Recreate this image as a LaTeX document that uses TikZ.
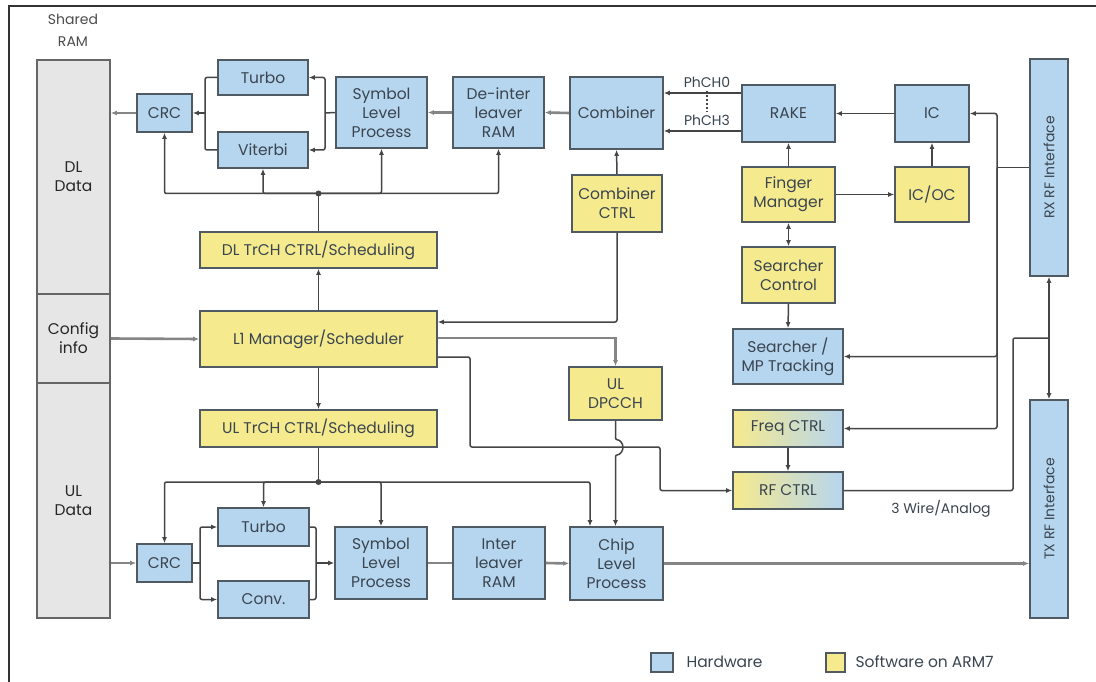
\documentclass[tikz,border=0pt]{standalone}
\usepackage{fontspec}
\setmainfont{Poppins}
\usetikzlibrary{arrows.meta}
\definecolor{hwblue}{HTML}{B6D5EE}
\definecolor{swyel}{HTML}{F6EA8E}
\definecolor{ramgrey}{HTML}{E6E6E6}
\definecolor{edge}{HTML}{505A63}
\definecolor{txt}{HTML}{3A4550}
\definecolor{ctlcol}{HTML}{454545}
\definecolor{datacol}{HTML}{858585}
\begin{document}
\begin{tikzpicture}[x=1pt,y=-1pt,
  box/.style={draw=edge, line width=1.6pt, align=center, inner sep=0pt,
    text=txt, font=\fontsize{15.5}{19}\selectfont},
  hw/.style={box, fill=hwblue},
  sw/.style={box, fill=swyel},
  mix/.style={box, left color=swyel, middle color=swyel, right color=hwblue},
  ram/.style={box, fill=ramgrey, draw=gray!80!black, text=gray!30!black},
  ctl/.style={draw=ctlcol, line width=1.5pt, rounded corners=2pt},
  data/.style={draw=datacol, line width=2.6pt},
  arr/.style={-{Latex[length=6pt,width=5pt]}},
  arrs/.style={{Latex[length=6pt,width=5pt]}-{Latex[length=6pt,width=5pt]}},
  dot/.style={circle, fill=ctlcol, inner sep=0pt, minimum size=6pt},
  note/.style={text=txt, font=\fontsize{14}{16}\selectfont},
  lbl/.style={text=gray!60!black, font=\fontsize{14}{22}\selectfont, align=center}]
\useasboundingbox (0,0) rectangle (1096,682);
\fill[white] (0,0) rectangle (1096,682);
% frame
\draw[line width=2pt, black!80] (1096,6.5) -- (8.5,6.5) -- (8.5,682);

% shared RAM column
\node[lbl] (ramlbl) at (73,30) {Shared\\RAM};
\node[ram, minimum width=73, minimum height=234] (dldata) at (73.5,177) {DL\\Data};
\node[ram, minimum width=73, minimum height=89] (cfginfo) at (73.5,338.5) {Config\\info};
\node[ram, minimum width=73, minimum height=235] (uldata) at (73.5,500.5) {UL\\Data};

% downlink chain
\node[hw, minimum width=55, minimum height=38] (dlcrc) at (164.5,113) {CRC};
\node[hw, minimum width=90, minimum height=35] (dlturbo) at (263,77.5) {Turbo};
\node[hw, minimum width=90, minimum height=36] (viterbi) at (263,150) {Viterbi};
\node[hw, minimum width=91, minimum height=71] (dlsym) at (381.5,112.5) {Symbol\\Level\\Process};
\node[hw, minimum width=91, minimum height=71] (deint) at (498.5,112.5) {De-inter\\leaver\\RAM};
\node[hw, minimum width=93, minimum height=72] (comb) at (616.5,113) {Combiner};
\node[sw, minimum width=90, minimum height=57] (combctrl) at (617,203.5) {Combiner\\CTRL};
\node[hw, minimum width=93, minimum height=57] (rake) at (788.5,113.5) {RAKE};
\node[hw, minimum width=74, minimum height=57] (ic) at (932,113.5) {IC};
\node[sw, minimum width=93, minimum height=55] (finger) at (788.5,194.5) {Finger\\Manager};
\node[sw, minimum width=74, minimum height=55] (icoc) at (932,194.5) {IC/OC};
\node[sw, minimum width=93, minimum height=56] (srchctrl) at (788.5,275) {Searcher\\Control};
\node[hw, minimum width=110, minimum height=55] (srchmp) at (788,356.5) {Searcher /\\MP Tracking};
\node[mix, minimum width=110, minimum height=37] (freq) at (788,428.5) {Freq CTRL};
\node[mix, minimum width=110, minimum height=37] (rfctrl) at (788,490.5) {RF CTRL};
\node[hw, minimum width=38, minimum height=217] (rxrf) at (1049,167.5) {};
\node[rotate=90, note] (rxlbl) at (rxrf) {RX RF Interface};
\node[hw, minimum width=38, minimum height=218] (txrf) at (1049,509) {};
\node[rotate=90, note] (txlbl) at (txrf) {TX RF Interface};

% control software
\node[sw, minimum width=237, minimum height=36] (dltrch) at (318.5,250) {DL TrCH CTRL/Scheduling};
\node[sw, minimum width=237, minimum height=56] (l1) at (318.5,339) {L1 Manager/Scheduler};
\node[sw, minimum width=237, minimum height=37] (ultrch) at (318.5,428.5) {UL TrCH CTRL/Scheduling};
\node[sw, minimum width=93, minimum height=53] (uldpcch) at (615.5,393.5) {UL\\DPCCH};

% uplink chain
\node[hw, minimum width=55, minimum height=38] (ulcrc) at (164.5,563) {CRC};
\node[hw, minimum width=91, minimum height=38] (ulturbo) at (263.5,527) {Turbo};
\node[hw, minimum width=91, minimum height=37] (conv) at (263.5,599.5) {Conv.};
\node[hw, minimum width=92, minimum height=72] (ulsym) at (381,563) {Symbol\\Level\\Process};
\node[hw, minimum width=92, minimum height=72] (inter) at (499,563) {Inter\\leaver\\RAM};
\node[hw, minimum width=93, minimum height=73] (chip) at (616.5,563.5) {Chip\\Level\\Process};

% legend and notes
\node[hw, minimum width=22, minimum height=19] (leghw) at (662,662.5) {};
\node[anchor=west, note, font=\fontsize{15.5}{18}\selectfont] (leghwt) at (683,662) {Hardware};
\node[sw, minimum width=19, minimum height=19] (legsw) at (835.5,662.5) {};
\node[anchor=west, note, font=\fontsize{15.5}{18}\selectfont] (legswt) at (852,662) {Software on ARM7};
\node[note] (wire) at (941,509) {3 Wire/Analog};

% junctions
\coordinate (dlj1) at (205,113);
\coordinate (dlj2) at (325,113);
\coordinate (dlbus) at (318.5,193.5);
\coordinate (ulbus) at (318.5,482);
\coordinate (ulj1) at (200,563);
\coordinate (ulj2) at (316,563);
\coordinate (rfa) at (470,447);
\coordinate (rfb) at (660,447);
\coordinate (rxv) at (997,167.5);
\coordinate (rfk) at (1013,338);
\coordinate (rfj) at (1049,338);

% downlink data path
\draw[data,arr] (dlcrc.west) -- (dldata.east |- dlcrc.west);
\draw[ctl] (dlturbo.west) -| (dlj1) |- (viterbi.west);
\draw[ctl,arr] (dlj1) -- (dlcrc.east);
\draw[ctl] (dlsym.west) -- (dlj2);
\draw[ctl,arr] (dlj2) |- (dlturbo.east);
\draw[ctl,arr] (dlj2) |- (viterbi.east);
\draw[data,arr] (deint.west) -- (dlsym.east);
\draw[data,arr] (comb.west) -- (deint.east);
\draw[ctl,arr] ([yshift=20.5pt]rake.west) -- ([yshift=20.5pt]rake.west -| comb.east);
\draw[ctl,arr] ([yshift=-17.5pt]rake.west) -- ([yshift=-17.5pt]rake.west -| comb.east);
\node[note] (ph0) at (707,82) {PhCH0};
\node[note] (ph3) at (707,120) {PhCH3};
\draw[ctlcol, line width=1.2pt, dash pattern=on 2pt off 2pt] (ph0.south) -- (ph3.north);
\draw[ctl,arr] (ic.west) -- (rake.east);
\draw[ctl,arr] (icoc.north) -- (ic.south);
\draw[ctl,arr] (finger.north) -- (rake.south);
\draw[ctl,arr] (finger.east) -- (icoc.west);
\draw[ctl,arrs] (finger.south) -- (srchctrl.north);
\draw[ctl,arr] (srchctrl.south) -- (srchmp.north);
\draw[ctl,arr] (combctrl.north) -- (comb.south);

% downlink control bus
\draw[ctl,arr] (l1.north) -- (dltrch.south);
\draw[ctl] (dltrch.north) -- (dlbus);
\draw[ctl,arr] (dlbus) -| (dlcrc.south);
\draw[ctl,arr] (dlbus) -| (viterbi.south);
\draw[ctl,arr] (dlbus) -| (dlsym.south);
\draw[ctl,arr] (dlbus) -| (deint.south);
\node[dot] (dlbusdot) at (dlbus) {};

% L1 manager links
\draw[data,arr] (cfginfo.east) -- (l1.west);
\draw[ctl,arr] (combctrl.south) |- ([yshift=17pt]l1.east);
\draw[data,arr] ([yshift=1pt]l1.east) -| (uldpcch.north);
\draw[ctl,arr] ([yshift=-18pt]l1.east) -| (rfa) -- (rfb) |- (rfctrl.west);
\draw[ctl,arr] (uldpcch.south) -- ([yshift=-19pt]uldpcch.south)
  arc[start angle=90, end angle=-90, radius=7.5pt] -- (uldpcch.south |- chip.north);
\draw[ctl,arr] (l1.south) -- (ultrch.north);

% uplink control bus
\draw[ctl] (ultrch.south) -- (ulbus);
\draw[ctl,arr] (ulbus) -| (ulcrc.north);
\draw[ctl,arr] (ulbus) -| (ulturbo.north);
\draw[ctl,arr] (ulbus) -| (ulsym.north);
\draw[ctl,arr] (ulbus) -| ([xshift=-26.5pt]chip.north);
\node[dot] (ulbusdot) at (ulbus) {};

% uplink data path
\draw[data,arr] (uldata.east |- ulcrc.west) -- (ulcrc.west);
\draw[ctl] (ulcrc.east) -- (ulj1);
\draw[ctl,arr] (ulj1) |- (ulturbo.west);
\draw[ctl,arr] (ulj1) |- (conv.west);
\draw[ctl] (ulturbo.east) -| (ulj2) |- (conv.east);
\draw[ctl,arr] (ulj2) -- (ulsym.west);
\draw[data] (ulsym.east) -- (inter.west);
\draw[data,arr] (inter.east) -- (chip.west);
\draw[data,arr] (chip.east) -- (chip.east -| txrf.west);

% RF side
\draw[ctl] (rxrf.west) -- (rxv);
\draw[ctl,arr] (rxv) |- (ic.east);
\draw[ctl,arr] (rxv) |- (srchmp.east);
\draw[ctl,arr] (rxv) |- (freq.east);
\draw[ctl,arr] (freq.south) -- (rfctrl.north);
\draw[ctl] (rfctrl.east) -| (rfk) -- (rfj);
\draw[ctl,arr] (rfj) -- (rxrf.south);
\draw[ctl,arr] (rfj) -- (txrf.north);
\end{tikzpicture}
\end{document}
